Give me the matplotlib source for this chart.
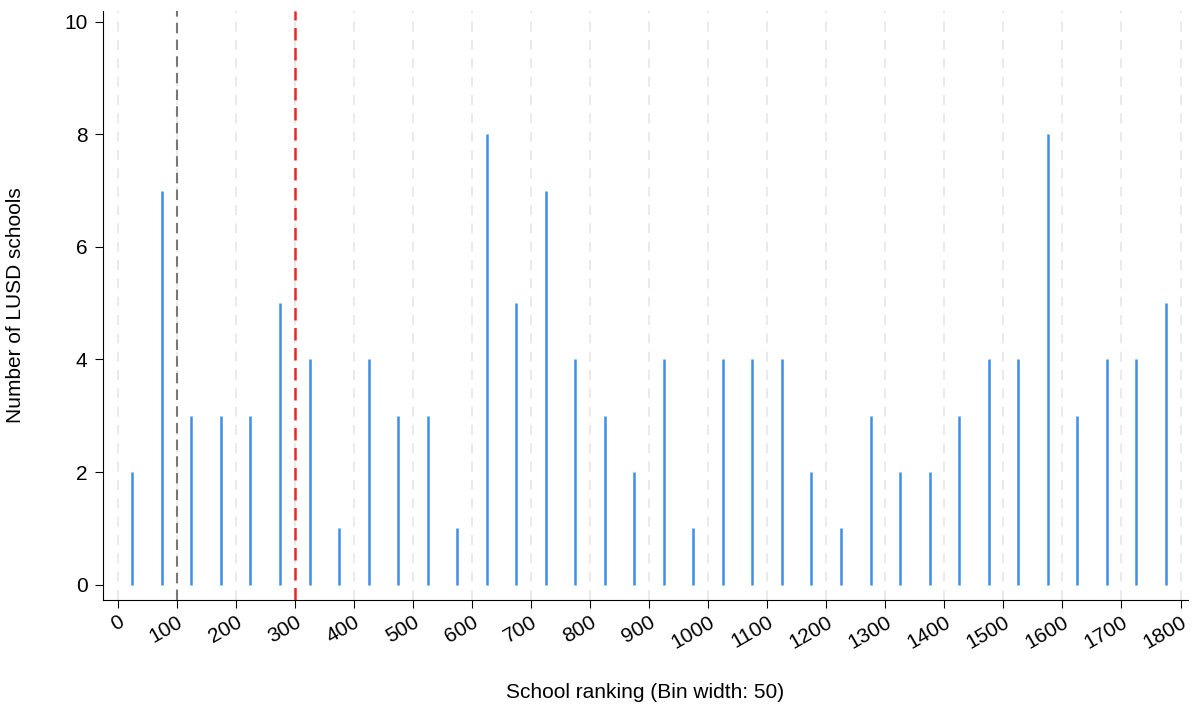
import matplotlib
matplotlib.use("Agg")
import matplotlib.pyplot as plt
import numpy as np

bin_centers = np.arange(25, 1800, 50)
counts = [2, 7, 3, 3, 3, 5, 4, 1, 4, 3, 3, 1, 8, 5, 7, 4, 3, 2, 4, 1,
          4, 4, 4, 2, 1, 3, 2, 2, 3, 4, 4, 8, 3, 4, 4, 5]
xticks = np.arange(0, 1801, 100)
yticks = [0, 2, 4, 6, 8, 10]

plt.rcParams['font.family'] = ['Liberation Sans', 'DejaVu Sans']
fig, ax = plt.subplots(figsize=(11.96, 7.04), dpi=100)
fig.subplots_adjust(left=0.086, right=0.993, top=0.985, bottom=0.148)

for x in xticks:
    ax.axvline(x, color='#e6e6e6', lw=1.2, ls=(0, (6, 5)), zorder=0)
ax.vlines(bin_centers, 0, counts, color='#3d8ee8', lw=1.8, zorder=2)
ax.axvline(100, color='#777777', lw=1.5, ls=(0, (5, 3)), zorder=3)
ax.axvline(300, color='#e8262b', lw=1.8, ls=(0, (5, 3)), zorder=3)

ax.set_xlim(-25, 1812)
ax.set_ylim(-0.27, 10.2)
ax.set_xticks(xticks)
ax.set_xticklabels([str(x) for x in xticks], rotation=30, fontsize=15,
                   ha='right', rotation_mode='anchor')
ax.set_yticks(yticks)
ax.set_yticklabels([str(y) for y in yticks], fontsize=15)
ax.spines['top'].set_visible(False)
ax.spines['right'].set_visible(False)
ax.tick_params(length=6)
ax.tick_params(axis='x', pad=3)
ax.tick_params(axis='y', pad=5)
ax.set_xlabel("School ranking (Bin width: 50)", fontsize=15, labelpad=22)
ax.set_ylabel("Number of LUSD schools", fontsize=15, labelpad=28)

fig.savefig("out.png", dpi=100)
